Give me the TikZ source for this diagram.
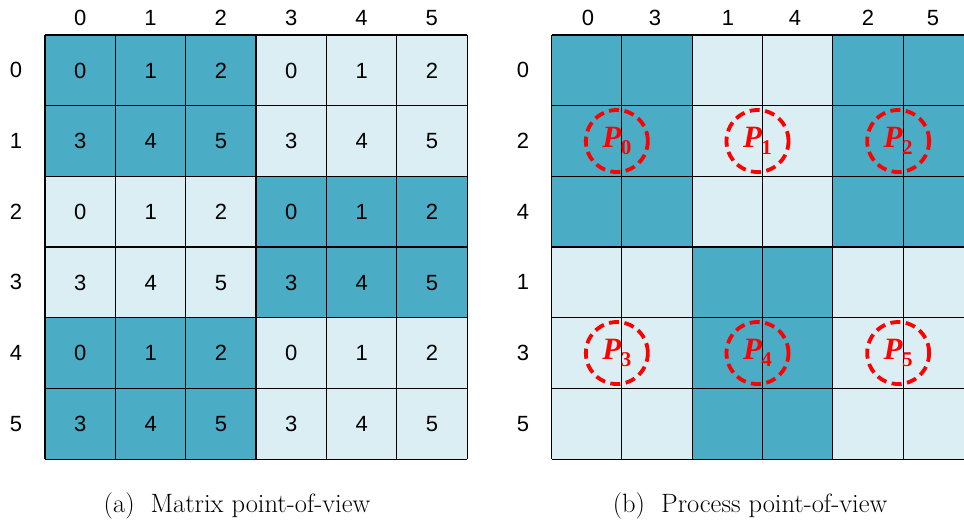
\documentclass[tikz,border=0pt]{standalone}
\usepackage{fontspec}
\newfontfamily\arialf{Liberation Sans}
\newfontfamily\pfont{Liberation Serif}
\definecolor{dk}{HTML}{4BACC6}
\definecolor{lt}{HTML}{DAEEF3}
\definecolor{pr}{HTML}{FF0000}
\begin{document}
\begin{tikzpicture}[x=1pt,y=-1pt,
  cell/.style={draw=none, minimum width=70.33pt, minimum height=70.67pt, inner sep=0pt, anchor=north west, font=\arialf\fontsize{22}{22}\selectfont},
  gridline/.style={draw=black, line width=1.2pt},
  lbl/.style={font=\arialf\fontsize{22}{22}\selectfont, inner sep=0pt},
  proc/.style={circle, draw=pr, line width=3.8pt, dash pattern=on 10pt off 5.5pt, minimum size=62pt, inner sep=0pt, text=pr},
  captext/.style={font=\fontsize{26.5}{28}\selectfont, inner sep=0pt}]
\useasboundingbox (0,0) rectangle (964,525);
\clip (0,0) rectangle (964,525);
% left grid
\foreach \r in {0,...,5} {
  \foreach \c in {0,...,5} {
    \pgfmathtruncatemacro\br{\r/2}
    \pgfmathtruncatemacro\bc{\c/3}
    \pgfmathtruncatemacro\k{\br+\bc}
    \pgfmathtruncatemacro\v{mod(\r,2)*3+mod(\c,3)}
    \ifodd\k \def\fc{lt}\else\def\fc{dk}\fi
    \node[cell, fill=\fc] (a\r\c) at ({45+\c*70.33},{35+\r*70.67}) {\v};
  }
}
\foreach \c in {0,...,5} {
  \draw[gridline] (a0\c.north west) -- (a5\c.south west);
  \draw[gridline] (a\c0.north west) -- (a\c5.north east);
}
\draw[gridline] (a05.north east) -- (a55.south east);
\draw[gridline] (a50.south west) -- (a55.south east);
\foreach \c in {0,...,5} {
  \node[lbl] (ac\c) at ({45+(\c+0.5)*70.33},18) {\c};
  \node[lbl] (ar\c) at (16,{35+(\c+0.5)*70.67}) {\c};
}
% right grid
\foreach \r in {0,...,5} {
  \foreach \c in {0,...,5} {
    \pgfmathtruncatemacro\br{\r/3}
    \pgfmathtruncatemacro\bc{\c/2}
    \pgfmathtruncatemacro\k{\br+\bc}
    \ifodd\k \def\fc{lt}\else\def\fc{dk}\fi
    \node[cell, fill=\fc] (b\r\c) at ({551.5+\c*70.33},{35+\r*70.67}) {};
  }
}
\foreach \c in {0,...,5} {
  \draw[gridline] (b0\c.north west) -- (b5\c.south west);
  \draw[gridline] (b\c0.north west) -- (b\c5.north east);
}
\draw[gridline] (b05.north east) -- (b55.south east);
\draw[gridline] (b50.south west) -- (b55.south east);
\foreach \t/\xx [count=\i from 0] in {0/588,3/655,1/728,4/795,2/868,5/933} {
  \node[lbl] (bc\i) at (\xx,18) {\t};
}
\foreach \t [count=\i from 0] in {0,2,4,1,3,5} {
  \node[lbl] (br\i) at (523,{35+(\i+0.5)*70.67}) {\t};
}
% processes
\foreach \p/\cc/\rr in {0/1/1.5, 1/3/1.5, 2/5/1.5, 3/1/4.5, 4/3/4.5, 5/5/4.5} {
  \node[proc] (p\p) at ({551.5+\cc*70.33-5},{35+\rr*70.67})
    {\pfont\bfseries\itshape\fontsize{31}{31}\selectfont P\kern-0.5pt\raisebox{-7pt}{\upshape\fontsize{21}{21}\selectfont \p}};
}
% captions
\node[captext] (capa) at (237,506) {(a)\ \ Matrix point-of-view};
\node[captext] (capb) at (750,506) {(b)\ \ Process point-of-view};
\end{tikzpicture}
\end{document}
